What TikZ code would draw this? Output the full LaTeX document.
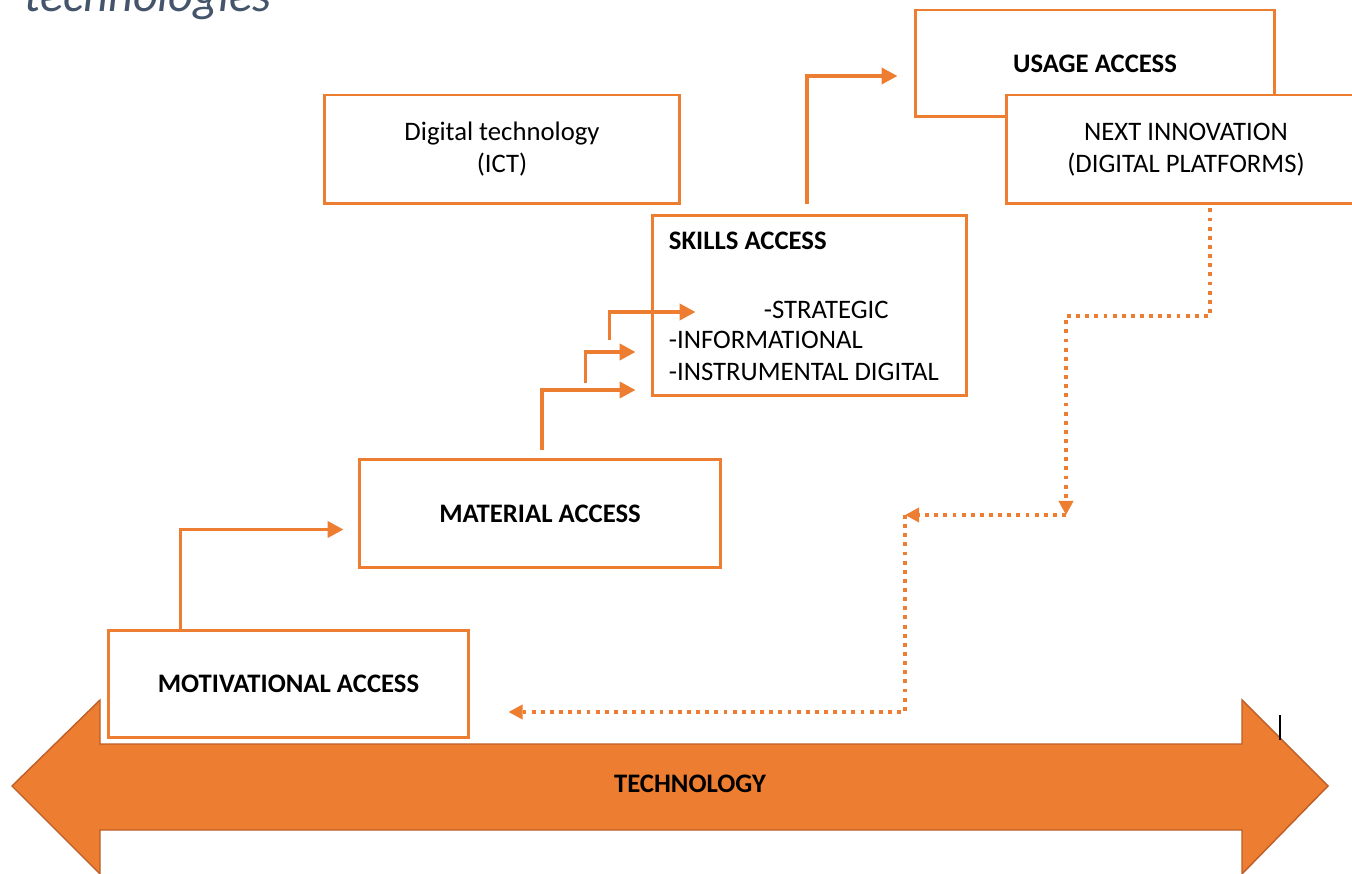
\documentclass[tikz,border=0pt]{standalone}
\usepackage{fontspec}
\setmainfont{Carlito}
\usetikzlibrary{arrows.meta,calc}
\definecolor{accorange}{HTML}{ED7D31}
\definecolor{accdark}{HTML}{BE5E26}
\definecolor{titleblue}{HTML}{44546A}

\begin{document}
\begin{tikzpicture}[x=0.02cm,y=-0.02cm,
accbox/.style={draw=accorange,fill=white,rectangle,line width=1.7pt,minimum width=7.2cm,minimum height=2.16cm,align=center,font=\fontsize{15.2}{18.2}\selectfont},
boxtext/.style={anchor=west,inner sep=0pt,font=\fontsize{15.2}{18.2}\selectfont},
flow/.style={draw=accorange,line width=2.2pt,-{Triangle[length=9pt,width=9pt]}},
feedback/.style={draw=accorange,line width=2.2pt,dash pattern=on 2.2pt off 3pt,-{Triangle[length=8pt,width=8pt]}}]

\useasboundingbox (0,0) rectangle (1352,874);

\draw (148,12) node[anchor=base,text=titleblue,font=\fontsize{27.5}{33}\selectfont\itshape] (title) {technologies};

% technology axis
\filldraw[fill=accorange,draw=accdark,line width=0.8pt]
  (12,786) -- (100,700) -- (100,744) -- (1242,744) -- (1242,700) -- (1328,786)
  -- (1242,874) -- (1242,830) -- (100,830) -- (100,874) -- cycle;
\draw (690,784) node[font=\fontsize{15.2}{18.2}\selectfont\bfseries] (tech) {TECHNOLOGY};
\draw[line width=0.6pt] (1280,715) -- (1280,740);

\draw (288.5,684) node[accbox,minimum width=7.22cm] (motiv) {\bfseries MOTIVATIONAL ACCESS};
\draw (540,513.5) node[accbox,minimum width=7.24cm,minimum height=2.18cm] (material) {\bfseries MATERIAL ACCESS};
\draw (502,149.5) node[accbox,minimum width=7.12cm,minimum height=2.18cm] (ict) {Digital technology\\(ICT)};
\draw (809.5,305.5) node[accbox,minimum width=6.3cm,minimum height=3.62cm] (skills) {};
\draw (1095,63.5) node[accbox,minimum height=2.14cm] (usage) {\bfseries USAGE ACCESS};
\draw (1186,149.5) node[accbox,minimum height=2.18cm] (next) {NEXT INNOVATION\\(DIGITAL PLATFORMS)};

\draw ($(skills.west)+(18,-64.5)$) node[boxtext] (skillshead) {\bfseries SKILLS ACCESS};
\draw ($(skills.west)+(113,4.5)$) node[boxtext] (strategic) {-STRATEGIC};
\draw ($(skills.west)+(18,34.5)$) node[boxtext] (informational) {-INFORMATIONAL};
\draw ($(skills.west)+(18,66.5)$) node[boxtext] (instrumental) {-INSTRUMENTAL DIGITAL};

% steps up
\draw[flow] ($(motiv.north west)+(74,0)$) |- ($(material.west)+(-14,16)$);
\draw[flow] ($(material.north)+(2,-8)$) |- ($(skills.west)+(-15,84.5)$);
\coordinate (stepB) at ($(skills.west)+(-65,77.5)$);
\draw[flow] (stepB) |- ($(skills.west)+(-15,46.5)$);
\coordinate (stepC) at ($(skills.west)+(-41,34.5)$);
\draw[flow] (stepC) |- ($(skills.west)+(45,6.5)$);
\draw[flow] ($(skills.north)+(-2.5,-10)$) |- ($(usage.west)+(-16,12.5)$);

% back down
\coordinate (fbA) at (1066,316);
\coordinate (fbB) at (1066,515);
\coordinate (fbC) at (905,515);
\draw[feedback] ($(next.south)+(24,3)$) |- (fbA) -- (fbB);
\draw[feedback] (fbB) -- (fbC);
\draw[feedback] (fbC) |- ($(motiv.east)+(38,28)$);
\end{tikzpicture}
\end{document}
